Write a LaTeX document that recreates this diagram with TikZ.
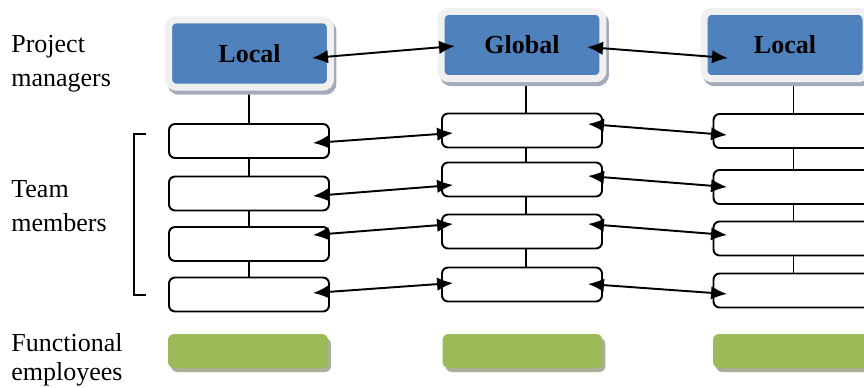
\documentclass[tikz,border=0pt]{standalone}
\usepackage{fontspec}
\setmainfont{Liberation Serif}
\usepackage{xcolor,tikz}
\definecolor{pmblue}{RGB}{79,129,189}
\definecolor{framegray}{RGB}{240,240,240}
\definecolor{pmshadow}{RGB}{163,171,186}
\definecolor{fegreen}{RGB}{155,187,89}
\definecolor{feshadow}{RGB}{168,176,152}
\usetikzlibrary{calc,arrows.meta,backgrounds}
\tikzset{>={Latex[length=0.32cm,width=0.27cm]}}
\tikzset{
  pmbox/.style={fill=pmblue,draw=framegray,line width=0.14cm,rounded corners=0.16cm,
    minimum width=3.24cm,minimum height=1.35cm,font=\fontsize{14.8}{18}\selectfont\bfseries,
    preaction={fill=pmshadow,draw=pmshadow,line width=0.14cm,transform canvas={xshift=0.05cm,yshift=-0.08cm}}},
  tmbox/.style={fill=white,draw,line width=1.1pt,rounded corners=0.12cm,minimum width=3.2cm,minimum height=0.68cm},
  febox/.style={fill=fegreen,rounded corners=0.12cm,minimum width=3.2cm,minimum height=0.68cm,
    preaction={fill=feshadow,transform canvas={xshift=0.06cm,yshift=-0.08cm}}},
  lbl/.style={anchor=west,align=left,inner sep=0pt,font=\fontsize{14.8}{19.6}\selectfont},
  link/.style={<->,line width=1.1pt}
}
\begin{document}
\begin{tikzpicture}[x=0.02cm,y=-0.02cm]
\useasboundingbox (0,0) rectangle (864,388);
\clip (0,0) rectangle (864,388);
% labels
\node[lbl] (pm) at (11,63.5) {Project\\managers};
\node[lbl] (tm) at (11,206) {Team\\members};
\node[lbl] (fe) at (11,360) {Functional\\[-2.8pt]employees};
\draw[line width=0.85pt] (146,134) -- (134,134) -- (134,295) -- (146,295);
% project managers
\node[pmbox] (l0) at (249.5,53.5) {Local};
\node[pmbox] (g0) at (522,45) {Global};
\node[pmbox] (r0) at (785,45) {Local};
% team members
\foreach \i/\yl/\yg/\yr in {1/141/130.5/131,2/193.5/179.5/187,3/244/231.5/238.5,4/294.5/284.5/290.5} {
\node[tmbox] (l\i) at (249,\yl) {};
\node[tmbox] (g\i) at (522,\yg) {};
\node[tmbox] (r\i) at (793.5,\yr) {};
};
% functional employees
\node[febox] (lf) at (248,351) {};
\node[febox] (gf) at (522.5,351) {};
\node[febox] (rf) at (793,351) {};
\begin{scope}[on background layer]
\draw[line width=1.1pt] (l4.center |- l0.center) -- (l4.center);
\draw[line width=1.1pt] ($(g0.center)+(4,0)$) -- ($(g4.center)+(4,0)$);
\draw[line width=1.1pt] (r4.center |- r0.center) -- (r4.center);
\end{scope}
\draw[link] ($(l0.east)+(-22,4.5)$) -- ($(g0.west)+(17.5,1)$);
\draw[link] ($(g0.east)+(-19.5,2)$) -- ($(r0.west)+(27.5,13)$);
\foreach \i/\p/\q/\s/\t in {1/2/2.5/-6.5/4,2/2.5/5.5/-3.5/0,3/-9/-7.5/-7.5/-3.5,4/-1.5/-1.5/-0.5/3.5} {
\draw[link] ($(l\i.east)+(-17,\p)$) -- ($(g\i.west)+(12,\q)$);
\draw[link] ($(g\i.east)+(-15,\s)$) -- ($(r\i.west)+(14.5,\t)$);
};
\end{tikzpicture}
\end{document}
